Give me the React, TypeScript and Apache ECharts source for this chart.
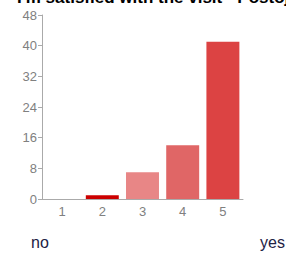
import React, { useEffect, useRef } from "react";
import * as echarts from "echarts";

const categories = ["1", "2", "3", "4", "5"];
const counts = [0, 1, 7, 14, 41];
const barColors = ["#cc0000", "#cc0000", "#e88686", "#e06666", "#dc4343"];
const yTicks = { min: 0, max: 48, interval: 8 };
const titleText = "I'm satisfied with the visit - Postojna";
const lowLabel = "no";
const highLabel = "yes";

export default function App() {
  const ref = useRef<HTMLDivElement>(null);
  useEffect(() => {
    if (!ref.current) return;
    const chart = echarts.init(ref.current, undefined, { renderer: "svg" });
    chart.setOption({
      animation: false,
      backgroundColor: "#ffffff",
      grid: { left: 42, right: 43, top: 15, bottom: 58 },
      xAxis: {
        type: "category",
        data: categories,
        axisLine: { lineStyle: { color: "#aaaaaa", width: 1 } },
        axisTick: { alignWithLabel: true, length: 4, lineStyle: { color: "#aaaaaa" } },
        axisLabel: { color: "#808080", fontSize: 13, fontFamily: "Arial, Liberation Sans", margin: 6 },
      },
      yAxis: {
        type: "value",
        min: yTicks.min,
        max: yTicks.max,
        interval: yTicks.interval,
        axisLine: { show: true, lineStyle: { color: "#aaaaaa", width: 1 } },
        axisTick: { show: true, length: 4, lineStyle: { color: "#aaaaaa" } },
        axisLabel: { color: "#808080", fontSize: 13, fontFamily: "Arial, Liberation Sans", margin: 5 },
        splitLine: { show: false },
      },
      series: [
        {
          type: "bar",
          data: counts.map((v, i) => ({ value: v, itemStyle: { color: barColors[i] } })),
          barWidth: "82%",
        },
      ],
      graphic: [
        {
          type: "text",
          left: 17,
          top: -11,
          style: {
            text: titleText,
            fill: "#000000",
            font: "bold 17px Arial, 'Liberation Sans'",
          },
        },
        {
          type: "text",
          left: 31,
          top: 234,
          style: { text: lowLabel, fill: "#222244", font: "16px Arial, 'Liberation Sans'" },
        },
        {
          type: "text",
          left: 260,
          top: 234,
          style: { text: highLabel, fill: "#222244", font: "16px Arial, 'Liberation Sans'" },
        },
      ],
    });
    return () => chart.dispose();
  }, []);
  return (
    <div
      ref={ref}
      style={{ position: "fixed", left: 0, top: 0, width: 286, height: 257 }}
    />
  );
}
